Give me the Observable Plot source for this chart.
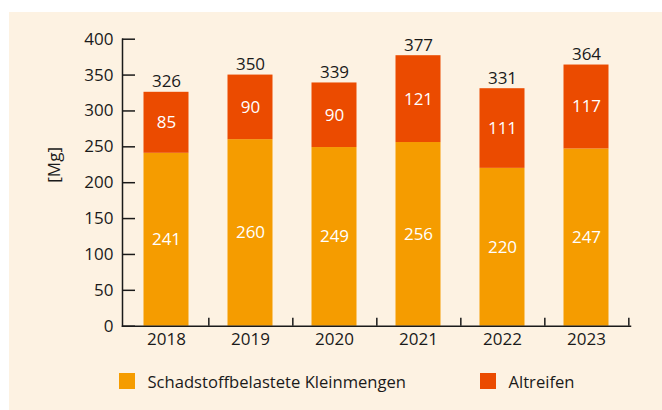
<!DOCTYPE html>
<html>
<head>
<meta charset="utf-8">
<script src="https://cdn.jsdelivr.net/npm/d3@7"></script>
<script src="https://cdn.jsdelivr.net/npm/@observablehq/plot@0.6"></script>
<style>
  html, body { margin: 0; padding: 0; background: #ffffff; }
  #panel { position: absolute; left: 9px; top: 12px; width: 653px; height: 398px; background: #FDF2E2; font-family: "Open Sans", sans-serif; color: #1a1a1a; }
  #chart { position: absolute; left: 0; top: 0; }
  .leg { position: absolute; top: 349px; display: flex; align-items: center; font-size: 16.6px; height: 40px; }
  .sw { width: 15.5px; height: 15.5px; margin-right: 13px; }
</style>
</head>
<body>
<div id="panel">
  <div id="chart"></div>
  <div class="leg" style="left:110px"><div class="sw" style="background:#F59C00"></div><span>Schadstoffbelastete Kleinmengen</span></div>
  <div class="leg" style="left:471px"><div class="sw" style="background:#EB4B00"></div><span>Altreifen</span></div>
</div>
<script>
const years = ["2018", "2019", "2020", "2021", "2022", "2023"];
const seriesNames = ["Schadstoffbelastete Kleinmengen", "Altreifen"];
const kleinmengen = [241, 260, 249, 256, 220, 247];
const altreifen = [85, 90, 90, 121, 111, 117];
const totals = [326, 350, 339, 377, 331, 364];
const yTicks = [0, 50, 100, 150, 200, 250, 300, 350, 400];
const colors = ["#F59C00", "#EB4B00"];

const rows = [];
years.forEach((yr, i) => {
  rows.push({year: yr, series: seriesNames[0], value: kleinmengen[i]});
  rows.push({year: yr, series: seriesNames[1], value: altreifen[i]});
});
const totalRows = years.map((yr, i) => ({year: yr, total: totals[i]}));

const W = 653, H = 350, ML = 113, MR = 32;
const step = (W - ML - MR) / years.length;
const FS = 17;

const chart = Plot.plot({
  width: W,
  height: H,
  marginLeft: ML,
  marginRight: MR,
  marginTop: 26.7,
  marginBottom: 36.3,
  style: {background: "transparent", fontFamily: "'Open Sans', sans-serif", fontSize: FS + "px", color: "#1a1a1a"},
  x: {domain: years, padding: 0, label: null},
  y: {domain: [0, 400], label: null},
  color: {domain: seriesNames, range: colors},
  marks: [
    Plot.barY(rows, Plot.stackY({x: "year", y: "value", z: "series", fill: "series", order: seriesNames, insetLeft: 19.5, insetRight: 19.5})),
    Plot.text(rows, Plot.stackY({x: "year", y: "value", z: "series", order: seriesNames, text: d => String(d.value), fill: "white", fontSize: FS})),
    Plot.text(totalRows, {x: "year", y: "total", text: d => String(d.total), dy: -5, lineAnchor: "bottom", fill: "#1a1a1a", fontSize: FS}),
    Plot.frame({anchor: "left", stroke: "#1a1a1a", strokeWidth: 1.5}),
    Plot.frame({anchor: "bottom", stroke: "#1a1a1a", strokeWidth: 1.5}),
    Plot.ruleX(years, {x: d => d, dx: step / 2, y1: 0, y2: 11, stroke: "#1a1a1a", strokeWidth: 1.5}),
    Plot.axisY({ticks: yTicks, tickSize: -13, tickPadding: 22, strokeWidth: 1.5, fontSize: FS, fill: "#1a1a1a", label: null}),
    Plot.axisX({tickSize: 0, tickPadding: 7, fontSize: FS, fill: "#1a1a1a", label: null}),
    Plot.text(["[Mg]"], {frameAnchor: "left", dx: -68, rotate: -90, text: d => d, fontSize: FS, fill: "#1a1a1a"})
  ]
});
document.getElementById("chart").appendChild(chart);
</script>
</body>
</html>
